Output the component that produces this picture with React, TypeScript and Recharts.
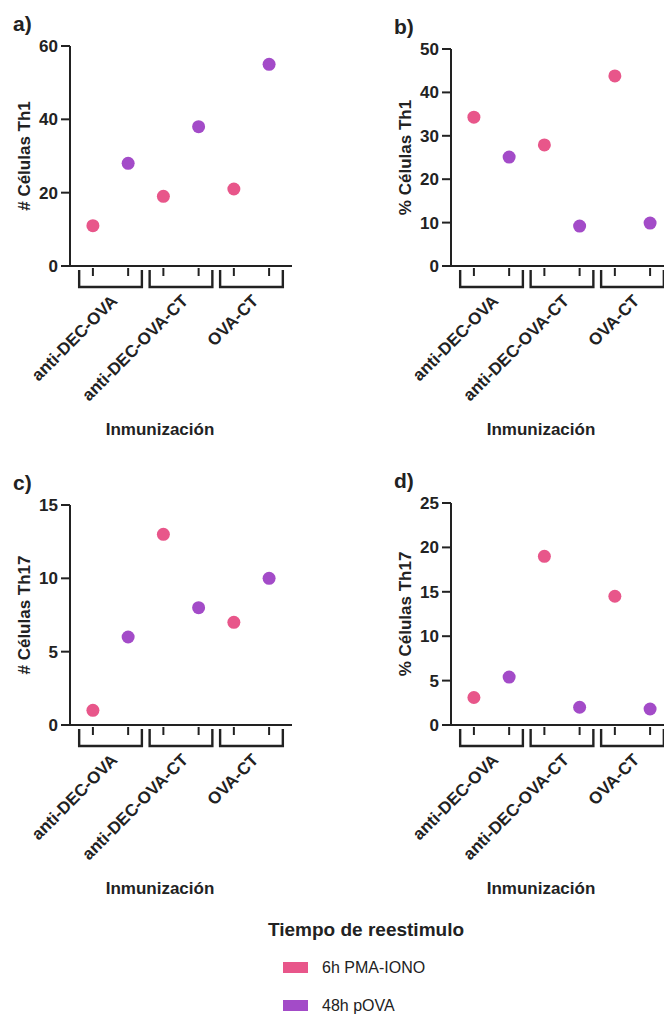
// Paneles de dispersión Th1 / Th17 (Recharts)
import React from "react";
import { ScatterChart, Scatter, XAxis, YAxis } from "recharts";

// categorías del eje X
const categories = ["anti-DEC-OVA", "anti-DEC-OVA-CT", "OVA-CT"];
const seriesNames = ["6h PMA-IONO", "48h pOVA"];
const seriesColors = ["#e8568a", "#a34bc8"];

// valores por panel, en el orden de categories
const th1CountPma = [11, 19, 21];
const th1CountPova = [28, 38, 55];
const th1PctPma = [34.3, 27.9, 43.8];
const th1PctPova = [25.1, 9.2, 9.9];
const th17CountPma = [1, 13, 7];
const th17CountPova = [6, 8, 10];
const th17PctPma = [3.1, 19, 14.5];
const th17PctPova = [5.4, 2.0, 1.8];

// ticks del eje Y
const th1CountTicks = [0, 20, 40, 60];
const th1PctTicks = [0, 10, 20, 30, 40, 50];
const th17CountTicks = [0, 5, 10, 15];
const th17PctTicks = [0, 5, 10, 15, 20, 25];

const xPositions = [1, 2, 3, 4, 5, 6];
const X_DOMAIN: [number, number] = [0.35, 6.65];
const PLOT_W = 222;
const UNIT = PLOT_W / (X_DOMAIN[1] - X_DOMAIN[0]);
const INK = "#222";
const FONT = "'Liberation Sans', Arial, sans-serif";
const Y_AXIS_W = 70;
const TOP_PAD = 40;
const X_AXIS_H = 184;

const GroupTick = (props: any) => {
  const { x, y, payload } = props;
  const v = payload.value as number;
  const first = v % 2 === 1;
  const cx = x + UNIT / 2;
  const l = cx - 0.89 * UNIT;
  const r = cx + 0.89 * UNIT;
  const tx = cx + 8;
  const ty = y + 36;
  return (
    <g>
      <line x1={x} x2={x} y1={y + 2} y2={y + 10} stroke={INK} strokeWidth={2} />
      {first && (
        <g>
          <path d={`M${l},${y + 4} V${y + 21} H${r} V${y + 4}`} fill="none" stroke={INK} strokeWidth={2.4} />
          <text x={tx} y={ty} textAnchor="end" transform={`rotate(-45 ${tx} ${ty})`}
            fontSize={17} fontWeight={700} fontFamily={FONT} fill={INK}>
            {categories[(v - 1) / 2]}
          </text>
        </g>
      )}
    </g>
  );
};

const Dot = (props: any) => <circle cx={props.cx} cy={props.cy} r={6.5} fill={props.fill} />;

interface PanelProps {
  letter: string;
  yLabel: string;
  pma: number[];
  pova: number[];
  ticks: number[];
  plotLeft: number;
  plotTop: number;
  plotBottom: number;
}

const Panel: React.FC<PanelProps> = ({ letter, yLabel, pma, pova, ticks, plotLeft, plotTop, plotBottom }) => {
  const pmaData = pma.map((v, i) => ({ x: 2 * i + 1, y: v }));
  const povaData = pova.map((v, i) => ({ x: 2 * i + 2, y: v }));
  const plotH = plotBottom - plotTop;
  const width = Y_AXIS_W + PLOT_W + 10;
  const height = TOP_PAD + plotH + X_AXIS_H;
  return (
    <div style={{ position: "absolute", left: plotLeft - Y_AXIS_W, top: plotTop - TOP_PAD }}>
      <ScatterChart width={width} height={height} margin={{ top: TOP_PAD, right: 10, left: 0, bottom: 0 }}>
        <XAxis type="number" dataKey="x" domain={X_DOMAIN} ticks={xPositions} interval={0}
          tickLine={false} tickSize={0} tickMargin={0} height={X_AXIS_H} tick={<GroupTick />}
          axisLine={{ stroke: INK, strokeWidth: 2 }} allowDataOverflow
          label={(p: any) => {
            const vb = p.viewBox;
            return (
              <text x={vb.x + 90} y={vb.y + 169} textAnchor="middle" fontSize={17} fontWeight={700}
                fontFamily={FONT} fill={INK}>Inmunización</text>
            );
          }} />
        <YAxis type="number" dataKey="y" domain={[ticks[0], ticks[ticks.length - 1]]} ticks={ticks} interval={0}
          width={Y_AXIS_W} tickSize={9} tickMargin={3}
          tick={{ fontSize: 17, fontWeight: 700, fill: INK, fontFamily: FONT }}
          axisLine={{ stroke: INK, strokeWidth: 2 }} tickLine={{ stroke: INK, strokeWidth: 2 }}
          label={(p: any) => {
            const vb = p.viewBox;
            const cx = vb.x + 24;
            const cy = vb.y + vb.height / 2;
            return (
              <g>
                <text x={cx} y={cy} transform={`rotate(-90 ${cx} ${cy})`} textAnchor="middle"
                  dominantBaseline="central" fontSize={17} fontWeight={700} fontFamily={FONT} fill={INK}>
                  {yLabel}
                </text>
                <text x={vb.x + 13} y={vb.y - 15} fontSize={21} fontWeight={700} fontFamily={FONT} fill={INK}>
                  {letter}
                </text>
              </g>
            );
          }} />
        <Scatter name={seriesNames[0]} data={pmaData} fill={seriesColors[0]} shape={<Dot />} isAnimationActive={false} />
        <Scatter name={seriesNames[1]} data={povaData} fill={seriesColors[1]} shape={<Dot />} isAnimationActive={false} />
      </ScatterChart>
    </div>
  );
};

export default function App() {
  return (
    <div style={{ position: "absolute", left: 0, top: 0, width: 664, height: 1016, overflow: "hidden", background: "#fff" }}>
      <Panel letter="a)" yLabel="# Células Th1" pma={th1CountPma} pova={th1CountPova} ticks={th1CountTicks}
        plotLeft={70} plotTop={46} plotBottom={266} />
      <Panel letter="b)" yLabel="% Células Th1" pma={th1PctPma} pova={th1PctPova} ticks={th1PctTicks}
        plotLeft={451} plotTop={49} plotBottom={266} />
      <Panel letter="c)" yLabel="# Células Th17" pma={th17CountPma} pova={th17CountPova} ticks={th17CountTicks}
        plotLeft={70} plotTop={505} plotBottom={725} />
      <Panel letter="d)" yLabel="% Células Th17" pma={th17PctPma} pova={th17PctPova} ticks={th17PctTicks}
        plotLeft={451} plotTop={503} plotBottom={725} />
      <svg width={664} height={100} style={{ position: "absolute", left: 0, top: 916 }}>
        <text x={268} y={20} fontSize={19} fontWeight={700} fontFamily={FONT} fill={INK}>Tiempo de reestimulo</text>
        {seriesNames.map((name, i) => (
          <g key={name}>
            <rect x={283} y={46 + i * 38} width={25} height={11} fill={seriesColors[i]} />
            <text x={322} y={57 + i * 38} fontSize={16} fontFamily={FONT} fill={INK}>{name}</text>
          </g>
        ))}
      </svg>
    </div>
  );
}
